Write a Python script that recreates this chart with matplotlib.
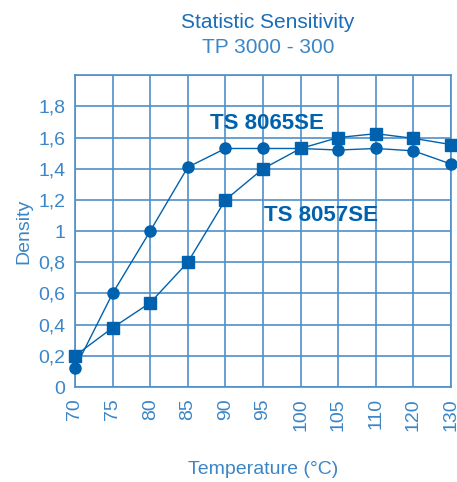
import matplotlib.pyplot as plt
import numpy as np

temps = ["70", "75", "80", "85", "90", "95", "100", "105", "110", "120", "130"]
ts8065 = [0.12, 0.60, 1.00, 1.41, 1.53, 1.53, 1.53, 1.52, 1.53, 1.515, 1.43]
ts8057 = [0.20, 0.38, 0.54, 0.80, 1.20, 1.40, 1.53, 1.60, 1.625, 1.595, 1.555]
yticks = [0, 0.2, 0.4, 0.6, 0.8, 1.0, 1.2, 1.4, 1.6, 1.8]
ylabels = ["0", "0,2", "0,4", "0,6", "0,8", "1", "1,2", "1,4", "1,6", "1,8"]

dark = "#0062ae"
grid = "#4f8fcb"
txt = "#3b86c6"

plt.rcParams['font.family'] = ['Liberation Sans', 'DejaVu Sans']

fig = plt.figure(figsize=(4.57, 4.82), dpi=100)
ax = fig.add_axes([0.164, 0.197, 0.823, 0.647])

x = np.arange(len(temps))
ax.plot(x, ts8065, color=dark, lw=1.0, marker="o", ms=8, clip_on=False, zorder=3)
ax.plot(x, ts8057, color=dark, lw=1.0, marker="s", ms=9, clip_on=False, zorder=4)

ax.set_xlim(0, len(temps) - 1)
ax.set_ylim(0, 2.0)
ax.set_xticks(x)
ax.set_xticklabels(temps, rotation=90, fontsize=14, color=txt)
ax.set_yticks(yticks + [2.0])
ax.set_yticklabels(ylabels + [""], fontsize=14, color=txt)
ax.tick_params(length=0)
ax.tick_params(axis="x", pad=8)
ax.tick_params(axis="y", pad=7)
ax.grid(True, color=grid, lw=1.2)
ax.set_axisbelow(True)
for s in ax.spines.values():
    s.set_color(grid)
    s.set_linewidth(1.2)

ax.set_ylabel("Density", fontsize=14, color=txt, labelpad=4)
ax.set_xlabel("Temperature (°C)", fontsize=14, color=txt, labelpad=22)

# series labels
ax.text(5.1, 1.69, "TS 8065SE", fontsize=16, fontweight="bold",
        color=dark, ha="center", va="center")
ax.text(6.55, 1.10, "TS 8057SE", fontsize=16, fontweight="bold",
        color=dark, ha="center", va="center")

fig.text(0.586, 0.953, "Statistic Sensitivity", fontsize=15, color="#1a6db6",
         ha="center", va="center")
fig.text(0.586, 0.902, "TP 3000 - 300", fontsize=15, color=txt,
         ha="center", va="center")

fig.savefig("out.png", dpi=100)
